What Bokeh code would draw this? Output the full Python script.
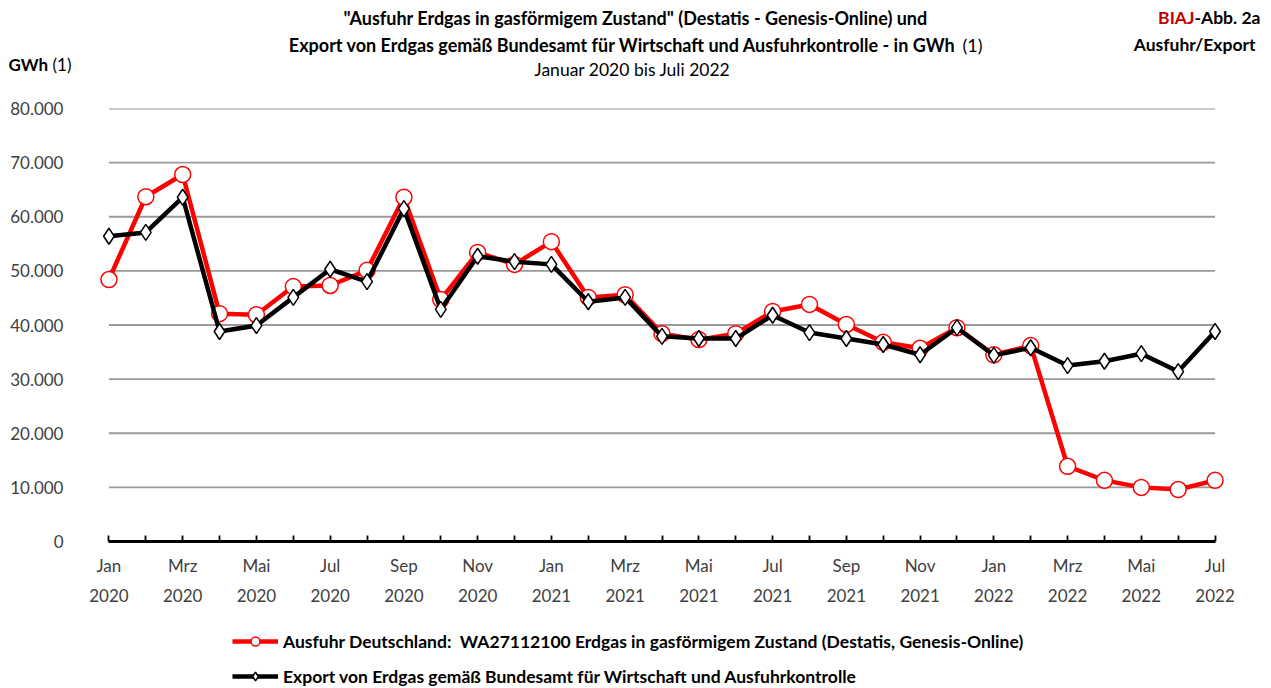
from bokeh.plotting import figure
from bokeh.models import Legend, LegendItem, FixedTicker, Range1d
from bokeh.layouts import column, row
from bokeh.core.properties import value
from bokeh.embed import file_html
from bokeh.resources import INLINE

month_names = ["Jan", "Feb", "Mrz", "Apr", "Mai", "Jun", "Jul", "Aug", "Sep", "Okt", "Nov", "Dez"]
periods = [(y, m) for y in (2020, 2021, 2022) for m in range(12)][:31]  # Jan 2020 .. Jul 2022

ausfuhr = [48400, 63700, 67800, 42100, 41900, 47100, 47300, 50100, 63600, 44700, 53400, 51200,
           55400, 45100, 45600, 38400, 37300, 38400, 42500, 43800, 40100, 36800, 35700, 39500,
           34500, 36200, 13900, 11300, 10000, 9600, 11300]
export = [56400, 57100, 63600, 38800, 39900, 45100, 50300, 48000, 61500, 42900, 52700, 51700,
          51200, 44300, 45100, 37900, 37500, 37500, 41800, 38600, 37500, 36400, 34500, 39500,
          34400, 35800, 32500, 33300, 34700, 31400, 38800]

y_ticks = [0, 10000, 20000, 30000, 40000, 50000, 60000, 70000, 80000]
y_tick_labels = ["0", "10.000", "20.000", "30.000", "40.000", "50.000", "60.000", "70.000", "80.000"]

title1 = "\"Ausfuhr Erdgas in gasförmigem Zustand\" (Destatis - Genesis-Online) und"
title2 = "Export von Erdgas gemäß Bundesamt für Wirtschaft und Ausfuhrkontrolle  - in GWh"
title3 = "Januar 2020 bis Juli 2022"
legend_red = "Ausfuhr Deutschland:  WA27112100 Erdgas in gasförmigem Zustand (Destatis, Genesis-Online)"
legend_black = "Export von Erdgas gemäß Bundesamt für Wirtschaft und Ausfuhrkontrolle"

FONT = "Lato, 'Open Sans', sans-serif"
RED = "#ff0000"
TICK_COLOR = "#404040"
TOTAL_W = 1264
HDR_H = 92

x = list(range(len(periods)))
n = len(x) - 1

# ---------------- header (titles) ----------------
hdr = figure(width=TOTAL_W, height=HDR_H, output_backend="svg", toolbar_location=None,
             x_range=Range1d(0, TOTAL_W), y_range=Range1d(HDR_H, 0), min_border=0)
hdr.axis.visible = False
hdr.grid.visible = False
hdr.outline_line_color = None

def htext(t, px, py, align="center", bold=True, color="black", size="18px"):
    hdr.text(x=[px], y=[py], text=[t], text_align=align, text_baseline="middle",
             text_font=value(FONT), text_font_size=size, text_color=color,
             text_font_style="bold" if bold else "normal")

htext(title1, 635, 17)
htext(title2, 960, 44, align="right")
htext("(1)", 962, 44, align="left", bold=False)
htext(title3, 632, 69, bold=False, size="17.5px")
htext("GWh", 8, 64, align="left", size="17px")
htext("(1)", 52, 64, align="left", bold=False, size="17px")
htext("BIAJ", 1194, 17, align="right", color="#c00000", size="17.5px")
htext("-Abb. 2a", 1194, 17, align="left", size="17.5px")
htext("Ausfuhr/Export", 1255, 44, align="right", size="17.5px")

# ---------------- main chart ----------------
p = figure(frame_width=1143, frame_height=433, output_backend="svg", toolbar_location=None,
           x_range=Range1d(-0.5, n + 0.5), y_range=Range1d(0, 80000),
           min_border_left=90, min_border_right=31, min_border_top=108 - HDR_H, min_border_bottom=70)
p.outline_line_color = None
p.xgrid.visible = False
p.ygrid.visible = False

p.segment(x0=[0] * (len(y_ticks) - 1), x1=[n] * (len(y_ticks) - 1), y0=y_ticks[1:], y1=y_ticks[1:],
          line_color="#9a9a9a", line_width=1.8)

p.line(x, ausfuhr, line_color=RED, line_width=4.5)
p.scatter(x, ausfuhr, marker="circle", size=16, fill_color="white", line_color=RED, line_width=1.5)
p.line(x, export, line_color="black", line_width=4.5)
p.scatter(x, export, marker="diamond", size=16, fill_color="white", line_color="black", line_width=1.5)

xa = p.xaxis[0]
xa.ticker = FixedTicker(ticks=x)
xa.major_label_overrides = {i: (f"{month_names[m]}\n{y}" if i % 2 == 0 else "")
                            for i, (y, m) in enumerate(periods)}
xa.bounds = (0, n)
xa.axis_line_width = 2.8
xa.axis_line_color = "black"
xa.major_tick_in = 6
xa.major_tick_out = 0
xa.major_tick_line_width = 1.8
xa.minor_tick_line_color = None
xa.major_label_text_font = FONT
xa.major_label_text_font_size = "17px"
xa.major_label_text_color = TICK_COLOR
xa.major_label_standoff = 13
xa.major_label_text_line_height = 1.45

ya = p.yaxis[0]
ya.ticker = FixedTicker(ticks=y_ticks)
ya.major_label_overrides = {v: s for v, s in zip(y_ticks, y_tick_labels)}
ya.axis_line_color = None
ya.major_tick_line_color = None
ya.major_tick_out = 0
ya.major_tick_in = 0
ya.minor_tick_line_color = None
ya.major_label_text_font = FONT
ya.major_label_text_font_size = "17px"
ya.major_label_text_color = TICK_COLOR
ya.major_label_standoff = 27

# ---------------- footer (legend) ----------------
# legend key renderers: same series, kept outside the footer's visible range
ftr = figure(width=TOTAL_W, height=77, output_backend="svg", toolbar_location=None,
             x_range=Range1d(0, 1), y_range=Range1d(-2, -1), min_border=0)
ftr.axis.visible = False
ftr.grid.visible = False
ftr.outline_line_color = None
k_red_l = ftr.line(x, ausfuhr, line_color=RED, line_width=4.5)
k_red_p = ftr.scatter(x, ausfuhr, marker="circle", size=11, fill_color="white", line_color=RED, line_width=1.5)
k_blk_l = ftr.line(x, export, line_color="black", line_width=4.5)
k_blk_p = ftr.scatter(x, export, marker="diamond", size=12, fill_color="white", line_color="black", line_width=1.5)

legend = Legend(items=[LegendItem(label=legend_red, renderers=[k_red_l, k_red_p]),
                       LegendItem(label=legend_black, renderers=[k_blk_l, k_blk_p])],
                location=(232, 1), orientation="vertical",
                label_text_font=FONT, label_text_font_size="17.5px", label_text_font_style="bold",
                label_text_color="black",
                glyph_width=46, glyph_height=22, spacing=13, label_standoff=5,
                border_line_color=None, background_fill_alpha=0, padding=0, margin=0)
ftr.add_layout(legend)

layout = column(row(hdr), p, row(ftr), spacing=0)
open("out.html", "w").write(file_html(layout, INLINE))
